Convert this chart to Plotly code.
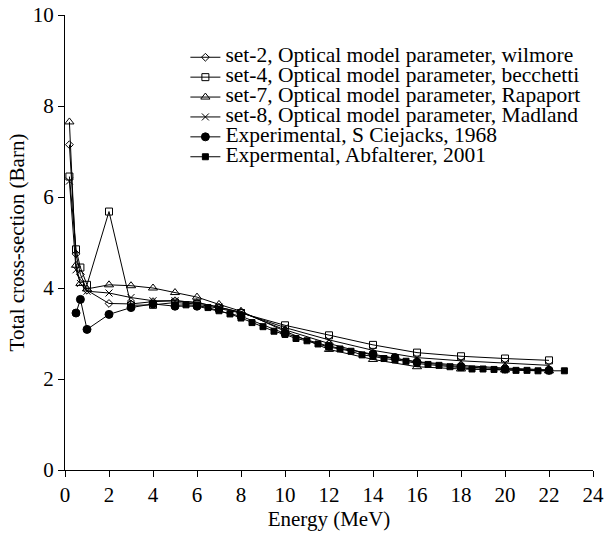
import plotly.graph_objects as go

# ---- data ----
energy_sets = [0.2, 0.5, 0.7, 1, 2, 3, 4, 5, 6, 7, 8, 10, 12, 14, 16, 18, 20, 22]
set2_wilmore = [7.15, 4.75, 4.3, 3.95, 3.66, 3.65, 3.7, 3.72, 3.68, 3.58, 3.47, 3.08, 2.78, 2.52, 2.38, 2.3, 2.24, 2.2]
set4_becchetti = [6.45, 4.85, 4.45, 4.07, 5.68, 3.62, 3.63, 3.68, 3.65, 3.55, 3.45, 3.18, 2.96, 2.75, 2.58, 2.5, 2.45, 2.41]
set7_rapaport = [7.65, 4.5, 4.1, 3.98, 4.07, 4.05, 4.0, 3.9, 3.8, 3.64, 3.49, 3.05, 2.65, 2.43, 2.27, 2.22, 2.2, 2.18]
set8_madland = [6.35, 4.4, 4.1, 3.93, 3.89, 3.79, 3.72, 3.72, 3.68, 3.58, 3.46, 3.13, 2.86, 2.63, 2.47, 2.4, 2.35, 2.3]

energy_ciejacks = [0.5, 0.7, 1, 2, 3, 4, 5, 6, 8, 10, 12, 14, 15, 16, 18, 20, 22]
xs_ciejacks = [3.45, 3.75, 3.09, 3.42, 3.57, 3.65, 3.6, 3.6, 3.38, 3.0, 2.72, 2.55, 2.47, 2.37, 2.27, 2.22, 2.19]

energy_abfalterer = [5.0, 5.5, 6.0, 6.5, 7.0, 7.5, 8.0, 8.5, 9.0, 9.5, 10.0, 10.5, 11.0, 11.5,
                     12.0, 12.5, 13.0, 13.5, 14.0, 14.5, 15.0, 15.5, 16.0, 16.5, 17.0, 17.5,
                     18.0, 18.5, 19.0, 19.5, 20.0, 20.5, 21.0, 21.5, 22.0, 22.7]
xs_abfalterer = [3.62, 3.63, 3.62, 3.57, 3.50, 3.43, 3.34, 3.24, 3.15, 3.05, 2.98, 2.89, 2.84, 2.77,
                 2.70, 2.66, 2.61, 2.53, 2.50, 2.45, 2.42, 2.39, 2.34, 2.32, 2.30, 2.27,
                 2.25, 2.22, 2.22, 2.21, 2.20, 2.19, 2.19, 2.18, 2.18, 2.18]

series_names = [
    "set-2, Optical model parameter, wilmore",
    "set-4, Optical model parameter, becchetti",
    "set-7, Optical model parameter, Rapaport",
    "set-8, Optical model parameter, Madland",
    "Experimental, S Ciejacks, 1968",
    "Expermental, Abfalterer, 2001",
]

x_tick_vals = list(range(0, 25, 2))
y_tick_vals = list(range(0, 11, 2))

FONT = "Liberation Serif"
BIG = 21
LEG = 21.5


def lab(s):
    return f'<span style="font-size:{LEG}px">{s}</span>'


fig = go.Figure()
specs = [
    (energy_sets, set2_wilmore, "diamond-open", 6),
    (energy_sets, set4_becchetti, "square-open", 7),
    (energy_sets, set7_rapaport, "triangle-up-open", 8),
    (energy_sets, set8_madland, "x-thin-open", 7),
    (energy_ciejacks, xs_ciejacks, "circle", 8),
    (energy_abfalterer, xs_abfalterer, "square", 6),
]
for (xv, yv, sym, sz), nm in zip(specs, series_names):
    fig.add_trace(go.Scatter(
        x=xv, y=yv, name=lab(nm), mode="lines+markers",
        line=dict(color="black", width=1),
        marker=dict(symbol=sym, size=sz, color="black",
                    line=dict(color="black", width=1)),
    ))

fig.update_layout(
    width=605, height=537,
    margin=dict(l=65, r=12, t=15, b=67),
    paper_bgcolor="white", plot_bgcolor="white",
    font=dict(family=FONT, size=BIG, color="black"),
    showlegend=True,
    legend=dict(x=0.228, y=0.94, xanchor="left", yanchor="top",
                bgcolor="rgba(0,0,0,0)", font=dict(size=13, family=FONT),
                itemwidth=30, tracegroupgap=0),
    xaxis=dict(range=[0, 24], tickvals=x_tick_vals, ticks="outside", ticklen=6,
               tickcolor="black", showline=True, linecolor="black", linewidth=1,
               showgrid=False, zeroline=False, automargin=False, ticklabeloverflow="allow",
               title=dict(text="Energy (MeV)", standoff=4, font=dict(family=FONT, size=BIG)),
               tickfont=dict(size=BIG, family=FONT)),
    yaxis=dict(range=[0, 10], tickvals=y_tick_vals, ticks="outside", ticklen=6,
               tickcolor="black", showline=True, linecolor="black", linewidth=1,
               showgrid=False, zeroline=False, automargin=False, ticklabeloverflow="allow",
               title=dict(text="Total cross-section (Barn)", standoff=2, font=dict(family=FONT, size=BIG)),
               tickfont=dict(size=BIG, family=FONT)),
)

fig.write_html("out.html", config={"displayModeBar": False},
               post_script="document.body.style.margin='0';")
